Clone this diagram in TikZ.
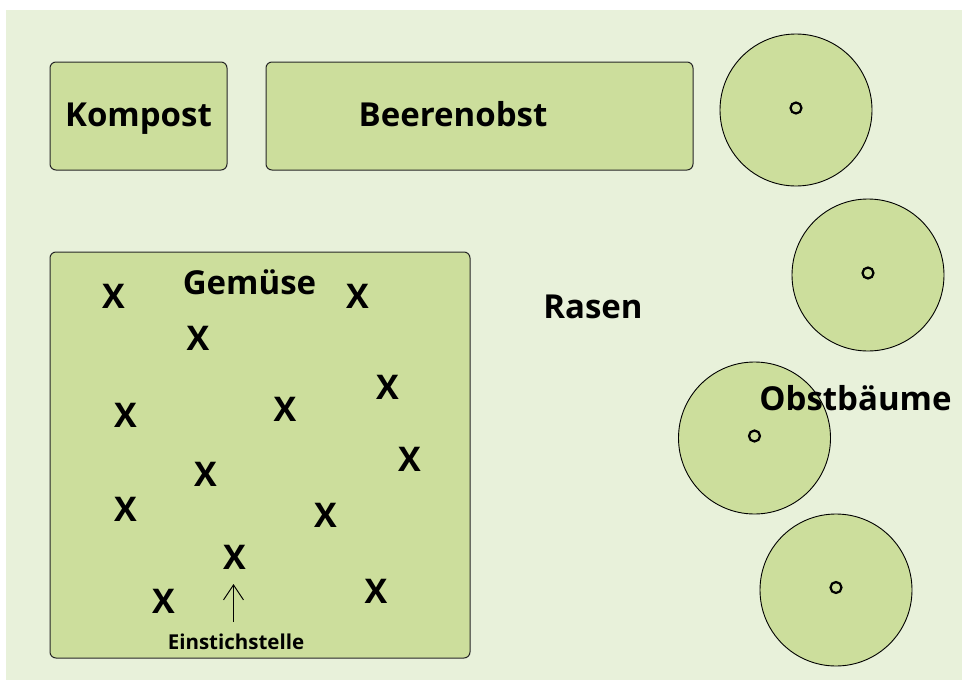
\documentclass[tikz,border=0pt]{standalone}
\usepackage{fontspec}
\setmainfont{Open Sans}
\usetikzlibrary{arrows.meta}
\definecolor{bgcol}{RGB}{232,241,218}
\definecolor{bedcol}{RGB}{204,222,156}
\begin{document}
\begin{tikzpicture}[x=1pt,y=-1pt,
  bed/.style={draw=black!85, fill=bedcol, line width=1pt, rounded corners=6pt},
  tree/.style={draw=black, fill=bedcol, line width=0.9pt},
  trunk/.style={draw=black, line width=2.2pt},
  lbl/.style={font=\fontsize{33}{40}\selectfont\bfseries, anchor=base, inner sep=0pt},
  plant/.style={font=\fontsize{34}{40}\selectfont\bfseries, inner sep=0pt},
  small/.style={font=\fontsize{20.5}{24}\selectfont\bfseries, anchor=base, inner sep=0pt}]
\useasboundingbox (0,0) rectangle (962,680);
\fill[white] (0,0) rectangle (962,680);
\fill[bgcol] (6,10) rectangle (962,680);
% beds
\draw[bed] (50,62) rectangle (227,170);
\draw[bed] (266,62) rectangle (693,170);
\draw[bed] (50,252) rectangle (470,658);
% trees
\draw[tree] (796,110) circle[radius=76pt];
\draw[tree] (868,275) circle[radius=76pt];
\draw[tree] (754.5,438) circle[radius=76pt];
\draw[tree] (836,590) circle[radius=76pt];
\draw[trunk] (796,108) circle[radius=5.5pt];
\draw[trunk] (868,273) circle[radius=5.5pt];
\draw[trunk] (754.5,436) circle[radius=5.5pt];
\draw[trunk] (836,587.5) circle[radius=5.5pt];
% labels
\node[lbl] (kompost) at (138.5,126) {Kompost};
\node[lbl] (beeren) at (453,126) {Beerenobst};
\node[lbl] (gemuese) at (249.5,294) {Gemüse};
\node[lbl] (rasen) at (593,318) {Rasen};
\node[lbl] (obst) at (855.5,410) {Obstbäume};
\node[small] (einstich) at (236,649) {Einstichstelle};
% plants
\node[plant] (x1) at (113.5,296.5) {X};
\node[plant] (x2) at (198,338) {X};
\node[plant] (x3) at (357.5,296.5) {X};
\node[plant] (x4) at (387.5,387) {X};
\node[plant] (x5) at (125.5,415) {X};
\node[plant] (x6) at (285,409) {X};
\node[plant] (x7) at (409.5,459) {X};
\node[plant] (x8) at (205.5,474) {X};
\node[plant] (x9) at (125.5,509) {X};
\node[plant] (x10) at (325.5,515.5) {X};
\node[plant] (x11) at (234.5,557) {X};
\node[plant] (x12) at (163.5,601) {X};
\node[plant] (x13) at (376,591) {X};
% arrow
\coordinate (arrfrom) at (233.5,622);
\coordinate (arrto) at (233.5,584);
\draw[line width=1pt, -{Straight Barb[length=15pt,width=20pt]}] (arrfrom) -- (arrto);
\end{tikzpicture}
\end{document}
